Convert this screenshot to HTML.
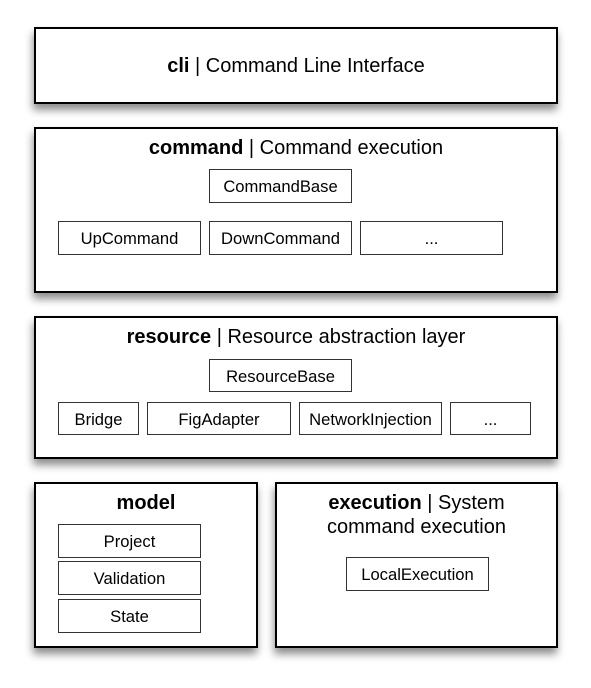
<!DOCTYPE html>
<html><head><meta charset="utf-8"><style>
body{margin:0;width:591px;height:688px;background:#fff;position:relative;font-family:"Liberation Sans",Arial,sans-serif;color:#000;overflow:hidden}
.o{position:absolute;background:#fff;border:2px solid #000;box-sizing:border-box;box-shadow:-1px 6px 8px rgba(0,0,0,0.45)}
.i{position:absolute;background:#fff;border:1px solid #333;box-sizing:border-box;font-size:16.6px;display:flex;align-items:center;justify-content:center;padding-top:2px}
.t{position:absolute;left:0;right:0;text-align:center;font-size:20px;line-height:24px}
</style></head><body>
<div class="o" style="left:34px;top:27px;width:524px;height:77px"><div class="t" style="top:25px"><b>cli</b> | Command Line Interface</div></div>

<div class="o" style="left:34px;top:127px;width:524px;height:166px"><div class="t" style="top:7px"><b>command</b> | Command execution</div></div>
<div class="i" style="left:209px;top:169px;width:143px;height:34px">CommandBase</div>
<div class="i" style="left:58px;top:221px;width:143px;height:34px">UpCommand</div>
<div class="i" style="left:209px;top:221px;width:143px;height:34px">DownCommand</div>
<div class="i" style="left:360px;top:221px;width:143px;height:34px">...</div>

<div class="o" style="left:34px;top:316px;width:524px;height:143px"><div class="t" style="top:7px"><b>resource</b> | Resource abstraction layer</div></div>
<div class="i" style="left:209px;top:359px;width:143px;height:33px">ResourceBase</div>
<div class="i" style="left:58px;top:402px;width:81px;height:33px">Bridge</div>
<div class="i" style="left:147px;top:402px;width:144px;height:33px">FigAdapter</div>
<div class="i" style="left:299px;top:402px;width:143px;height:33px">NetworkInjection</div>
<div class="i" style="left:450px;top:402px;width:81px;height:33px">...</div>

<div class="o" style="left:34px;top:482px;width:224px;height:166px"><div class="t" style="top:7px"><b>model</b></div></div>
<div class="i" style="left:58px;top:524px;width:143px;height:34px">Project</div>
<div class="i" style="left:58px;top:561px;width:143px;height:34px">Validation</div>
<div class="i" style="left:58px;top:599px;width:143px;height:34px">State</div>

<div class="o" style="left:275px;top:482px;width:283px;height:166px"><div class="t" style="top:7px"><b>execution</b> | System<br>command execution</div></div>
<div class="i" style="left:346px;top:557px;width:143px;height:34px">LocalExecution</div>
</body></html>
